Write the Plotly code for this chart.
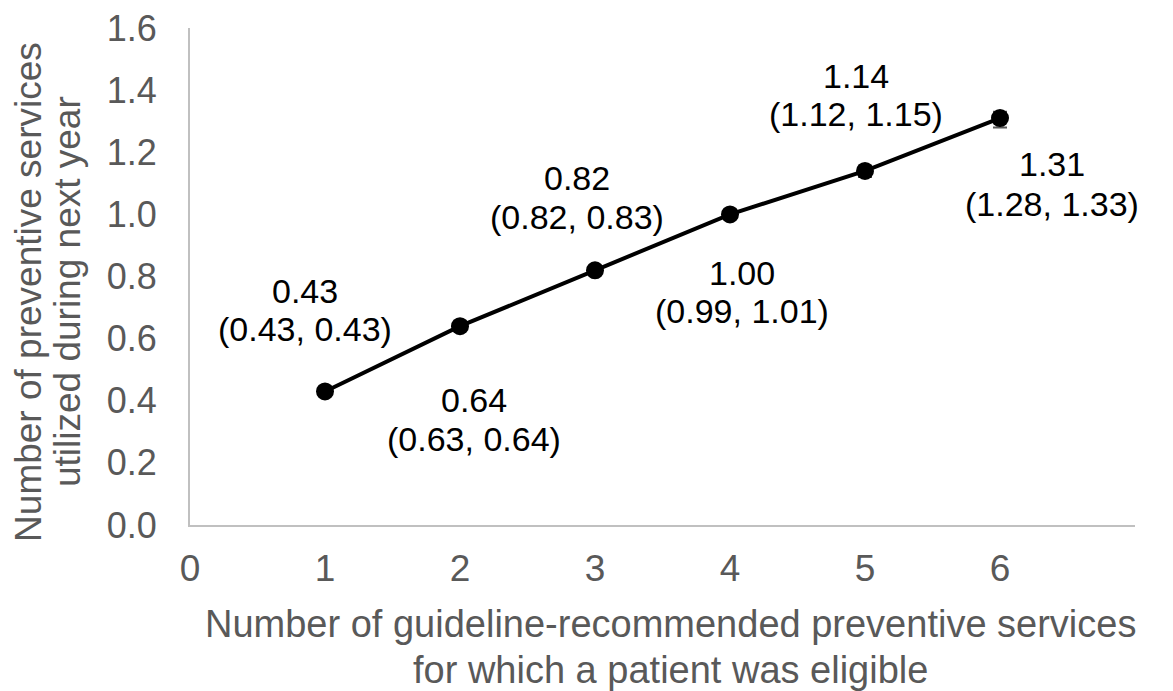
import plotly.graph_objects as go

eligible = [1, 2, 3, 4, 5, 6]
mean_used = [0.43, 0.64, 0.82, 1.00, 1.14, 1.31]
ci_low = [0.43, 0.63, 0.82, 0.99, 1.12, 1.28]
ci_high = [0.43, 0.64, 0.83, 1.01, 1.15, 1.33]
x_ticks = [0, 1, 2, 3, 4, 5, 6]
y_ticks = [0.0, 0.2, 0.4, 0.6, 0.8, 1.0, 1.2, 1.4, 1.6]

x_title_lines = ["Number of guideline-recommended preventive services",
                 "for which a patient was eligible"]
y_title_lines = ["Number of preventive services", "utilized during next year"]
trend_text = "P for trend <0.001"

# label placement (data coords): centre x, value-line y, CI-line y
label_x = [0.852, 2.100, 2.870, 4.087, 4.930, 6.385]
label_y_value = [0.752, 0.402, 1.116, 0.811, 1.447, 1.163]
label_y_ci = [0.631, 0.277, 0.991, 0.689, 1.323, 1.035]

FONT = "Liberation Sans, Arial, sans-serif"
GRAY = "#595959"

fig = go.Figure()
fig.add_trace(go.Scatter(
    x=eligible, y=mean_used, mode="lines+markers",
    line=dict(color="black", width=4),
    marker=dict(color="black", size=18),
    error_y=dict(type="data", symmetric=False,
                 array=[h - m for h, m in zip(ci_high, mean_used)],
                 arrayminus=[m - l for m, l in zip(mean_used, ci_low)],
                 color="#595959", thickness=2, width=7),
    showlegend=False, hoverinfo="x+y",
))

for i in range(len(eligible)):
    fig.add_annotation(
        x=label_x[i], y=label_y_value[i], xref="x", yref="y",
        text=f"{mean_used[i]:.2f}", showarrow=False,
        font=dict(family=FONT, size=34, color="black"),
        xanchor="center", yanchor="middle",
    )
    fig.add_annotation(
        x=label_x[i], y=label_y_ci[i], xref="x", yref="y",
        text=f"({ci_low[i]:.2f}, {ci_high[i]:.2f})", showarrow=False,
        font=dict(family=FONT, size=34, color="black"),
        xanchor="center", yanchor="middle",
    )

fig.add_annotation(
    x=7.163, y=0.186, xref="x", yref="y", text=trend_text,
    showarrow=False, font=dict(family=FONT, size=33, color="black"),
    xanchor="right", yanchor="middle",
)

# axis titles (two tightly spaced lines each)
for txt, yp in zip(x_title_lines, [-0.2, -0.291]):
    fig.add_annotation(x=0.508, y=yp, xref="paper", yref="paper", text=txt,
                       showarrow=False, font=dict(family=FONT, size=38, color=GRAY),
                       xanchor="center", yanchor="middle")
for txt, xp in zip(y_title_lines, [-0.1709, -0.1295]):
    fig.add_annotation(x=xp, y=0.47, xref="paper", yref="paper", text=txt,
                       showarrow=False, textangle=-90,
                       font=dict(family=FONT, size=37, color=GRAY),
                       xanchor="center", yanchor="middle")

fig.update_layout(
    width=1173, height=691,
    margin=dict(l=182, r=46, t=20, b=174),
    paper_bgcolor="white", plot_bgcolor="white",
    font=dict(family=FONT, color=GRAY),
    xaxis=dict(
        range=[0, 7], tickvals=x_ticks, ticktext=[str(v) for v in x_ticks],
        showgrid=False, zeroline=False, showline=True, linecolor="#c0c0c0", linewidth=2,
        ticks="", tickfont=dict(family=FONT, size=37, color=GRAY), ticklabelstandoff=10,
        ticklabeloverflow="allow", automargin=False,
    ),
    yaxis=dict(
        range=[0, 1.6], tickvals=y_ticks, ticktext=[f"{v:.1f}" for v in y_ticks],
        showgrid=False, zeroline=False, showline=True, linecolor="#c0c0c0", linewidth=2,
        ticks="", tickfont=dict(family=FONT, size=36, color=GRAY), ticklabelstandoff=24,
        ticklabeloverflow="allow", automargin=False,
    ),
)

fig.write_html("out.html")
